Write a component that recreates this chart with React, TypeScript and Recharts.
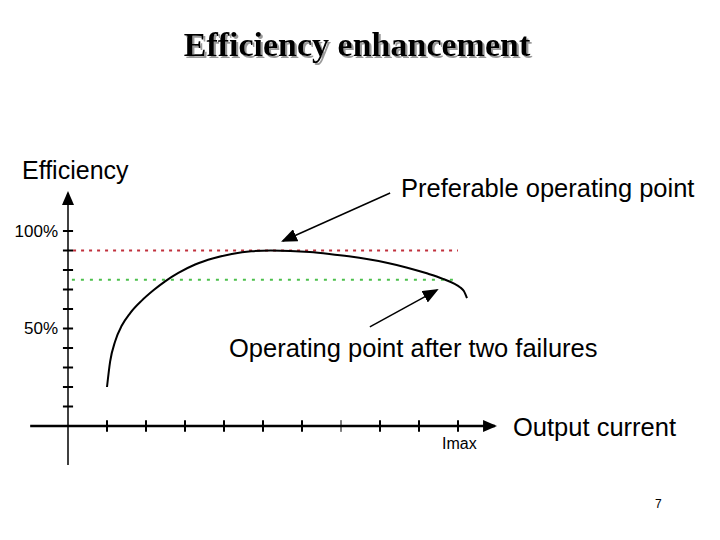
import { LineChart, Line, XAxis, YAxis, ReferenceLine } from "recharts";

// #region Sample data
// output current in ticks of Imax/10, efficiency in %
const current = [1.0, 1.08, 1.21, 1.38, 1.59, 1.89, 2.19, 2.49, 2.83, 3.26, 3.73, 4.2, 4.7, 5.2, 5.7, 6.2, 6.7, 7.2, 7.7, 8.2, 8.7, 9.2, 9.6, 9.9, 10.05, 10.15, 10.23];
const efficiency = [20, 33, 43.5, 51.5, 57.8, 64.3, 69.6, 74.2, 78.5, 82.8, 86, 88.2, 89.6, 90, 89.8, 89.2, 88.2, 87, 85.5, 83.6, 81.2, 78.3, 75.6, 73, 71.2, 69.2, 65.6];
const xTicks = [1, 2, 3, 4, 5, 6, 7, 8, 9, 10];
const yTicks = [10, 20, 30, 40, 50, 60, 70, 80, 90, 100];
const preferableLevel = 90;
const failureLevel = 75;
// #endregion

const data = current.map((x, i) => ({ x, eff: efficiency[i] }));

const sans = "'Liberation Sans', Arial, sans-serif";

const App = () => {
  return (
    <div style={{ position: "absolute", left: 0, top: 0, width: 720, height: 540, background: "#fff" }}>
      <LineChart
        width={720}
        height={540}
        data={data}
        margin={{ top: 192, right: 223, left: 29, bottom: 75 }}
      >
        <defs>
          <marker id="head" viewBox="0 0 14 12" refX="12" refY="6" markerWidth="14" markerHeight="12" markerUnits="userSpaceOnUse" orient="auto">
            <path d="M0,0 L14,6 L0,12 Z" fill="#000" />
          </marker>
          <marker id="head2" viewBox="0 0 16 13" refX="14" refY="6.5" markerWidth="16" markerHeight="13" markerUnits="userSpaceOnUse" orient="auto">
            <path d="M0,0 L16,6.5 L0,13 Z" fill="#000" />
          </marker>
          <filter id="shadow" x="-5%" y="-20%" width="110%" height="150%">
            <feDropShadow dx="2" dy="2" stdDeviation="0.6" floodColor="#9a9a9a" floodOpacity="1" />
          </filter>
        </defs>
        <XAxis type="number" dataKey="x" domain={[-1, 11]} hide />
        <YAxis type="number" domain={[-20, 120]} hide />

        {/* axes */}
        <ReferenceLine segment={[{ x: -0.97, y: 0 }, { x: 10.95, y: 0 }]} stroke="#000" strokeWidth={2.5} markerEnd="url(#head)" />
        <ReferenceLine segment={[{ x: 0, y: -20 }, { x: 0, y: 119.5 }]} stroke="#000" strokeWidth={1.5} markerEnd="url(#head)" />
        {xTicks.map((t) => (
          <ReferenceLine key={"xt" + t} segment={[{ x: t, y: -3 }, { x: t, y: 3 }]} stroke="#000" strokeWidth={t === 7 ? 1 : 2} />
        ))}
        {yTicks.map((t) => (
          <ReferenceLine key={"yt" + t} segment={[{ x: -0.13, y: t }, { x: 0.13, y: t }]} stroke="#000" strokeWidth={2} />
        ))}

        {/* operating levels */}
        <ReferenceLine segment={[{ x: 0.13, y: preferableLevel }, { x: 10.0, y: preferableLevel }]} stroke="#c0303c" strokeWidth={2} strokeDasharray="3 5" />
        <ReferenceLine segment={[{ x: 0.1, y: failureLevel }, { x: 10.0, y: failureLevel }]} stroke="#4cc04c" strokeWidth={2} strokeDasharray="3 6" />

        <Line type="monotone" dataKey="eff" stroke="#000" strokeWidth={2} dot={false} isAnimationActive={false} />

        {/* annotation arrows */}
        <ReferenceLine segment={[{ x: 8.26, y: 119.5 }, { x: 5.51, y: 94.9 }]} stroke="#000" strokeWidth={1.5} markerEnd="url(#head2)" />
        <ReferenceLine segment={[{ x: 7.74, y: 50.8 }, { x: 9.46, y: 69.7 }]} stroke="#000" strokeWidth={1.5} markerEnd="url(#head2)" />

        {/* texts */}
        <text x={357} y={56} textAnchor="middle" fontFamily="'Liberation Serif', 'Times New Roman', serif" fontWeight="bold" fontSize={34} fill="#000" filter="url(#shadow)">
          Efficiency enhancement
        </text>
        <text x={22} y={179} fontFamily={sans} fontSize={25} fill="#000">Efficiency</text>
        <text x={401} y={197} fontFamily={sans} fontSize={25.5} fill="#000">Preferable operating point</text>
        <text x={229} y={357} fontFamily={sans} fontSize={25.5} fill="#000">Operating point after two failures</text>
        <text x={513} y={436} fontFamily={sans} fontSize={25.5} fill="#000">Output current</text>
        <text x={442} y={449} fontFamily={sans} fontSize={16} fill="#000">Imax</text>
        <text x={58} y={237} textAnchor="end" fontFamily={sans} fontSize={17} fill="#000">100%</text>
        <text x={58} y={334} textAnchor="end" fontFamily={sans} fontSize={17} fill="#000">50%</text>
        <text x={655} y={508} fontFamily={sans} fontSize={12} fill="#000">7</text>
      </LineChart>
    </div>
  );
};

export default App;
